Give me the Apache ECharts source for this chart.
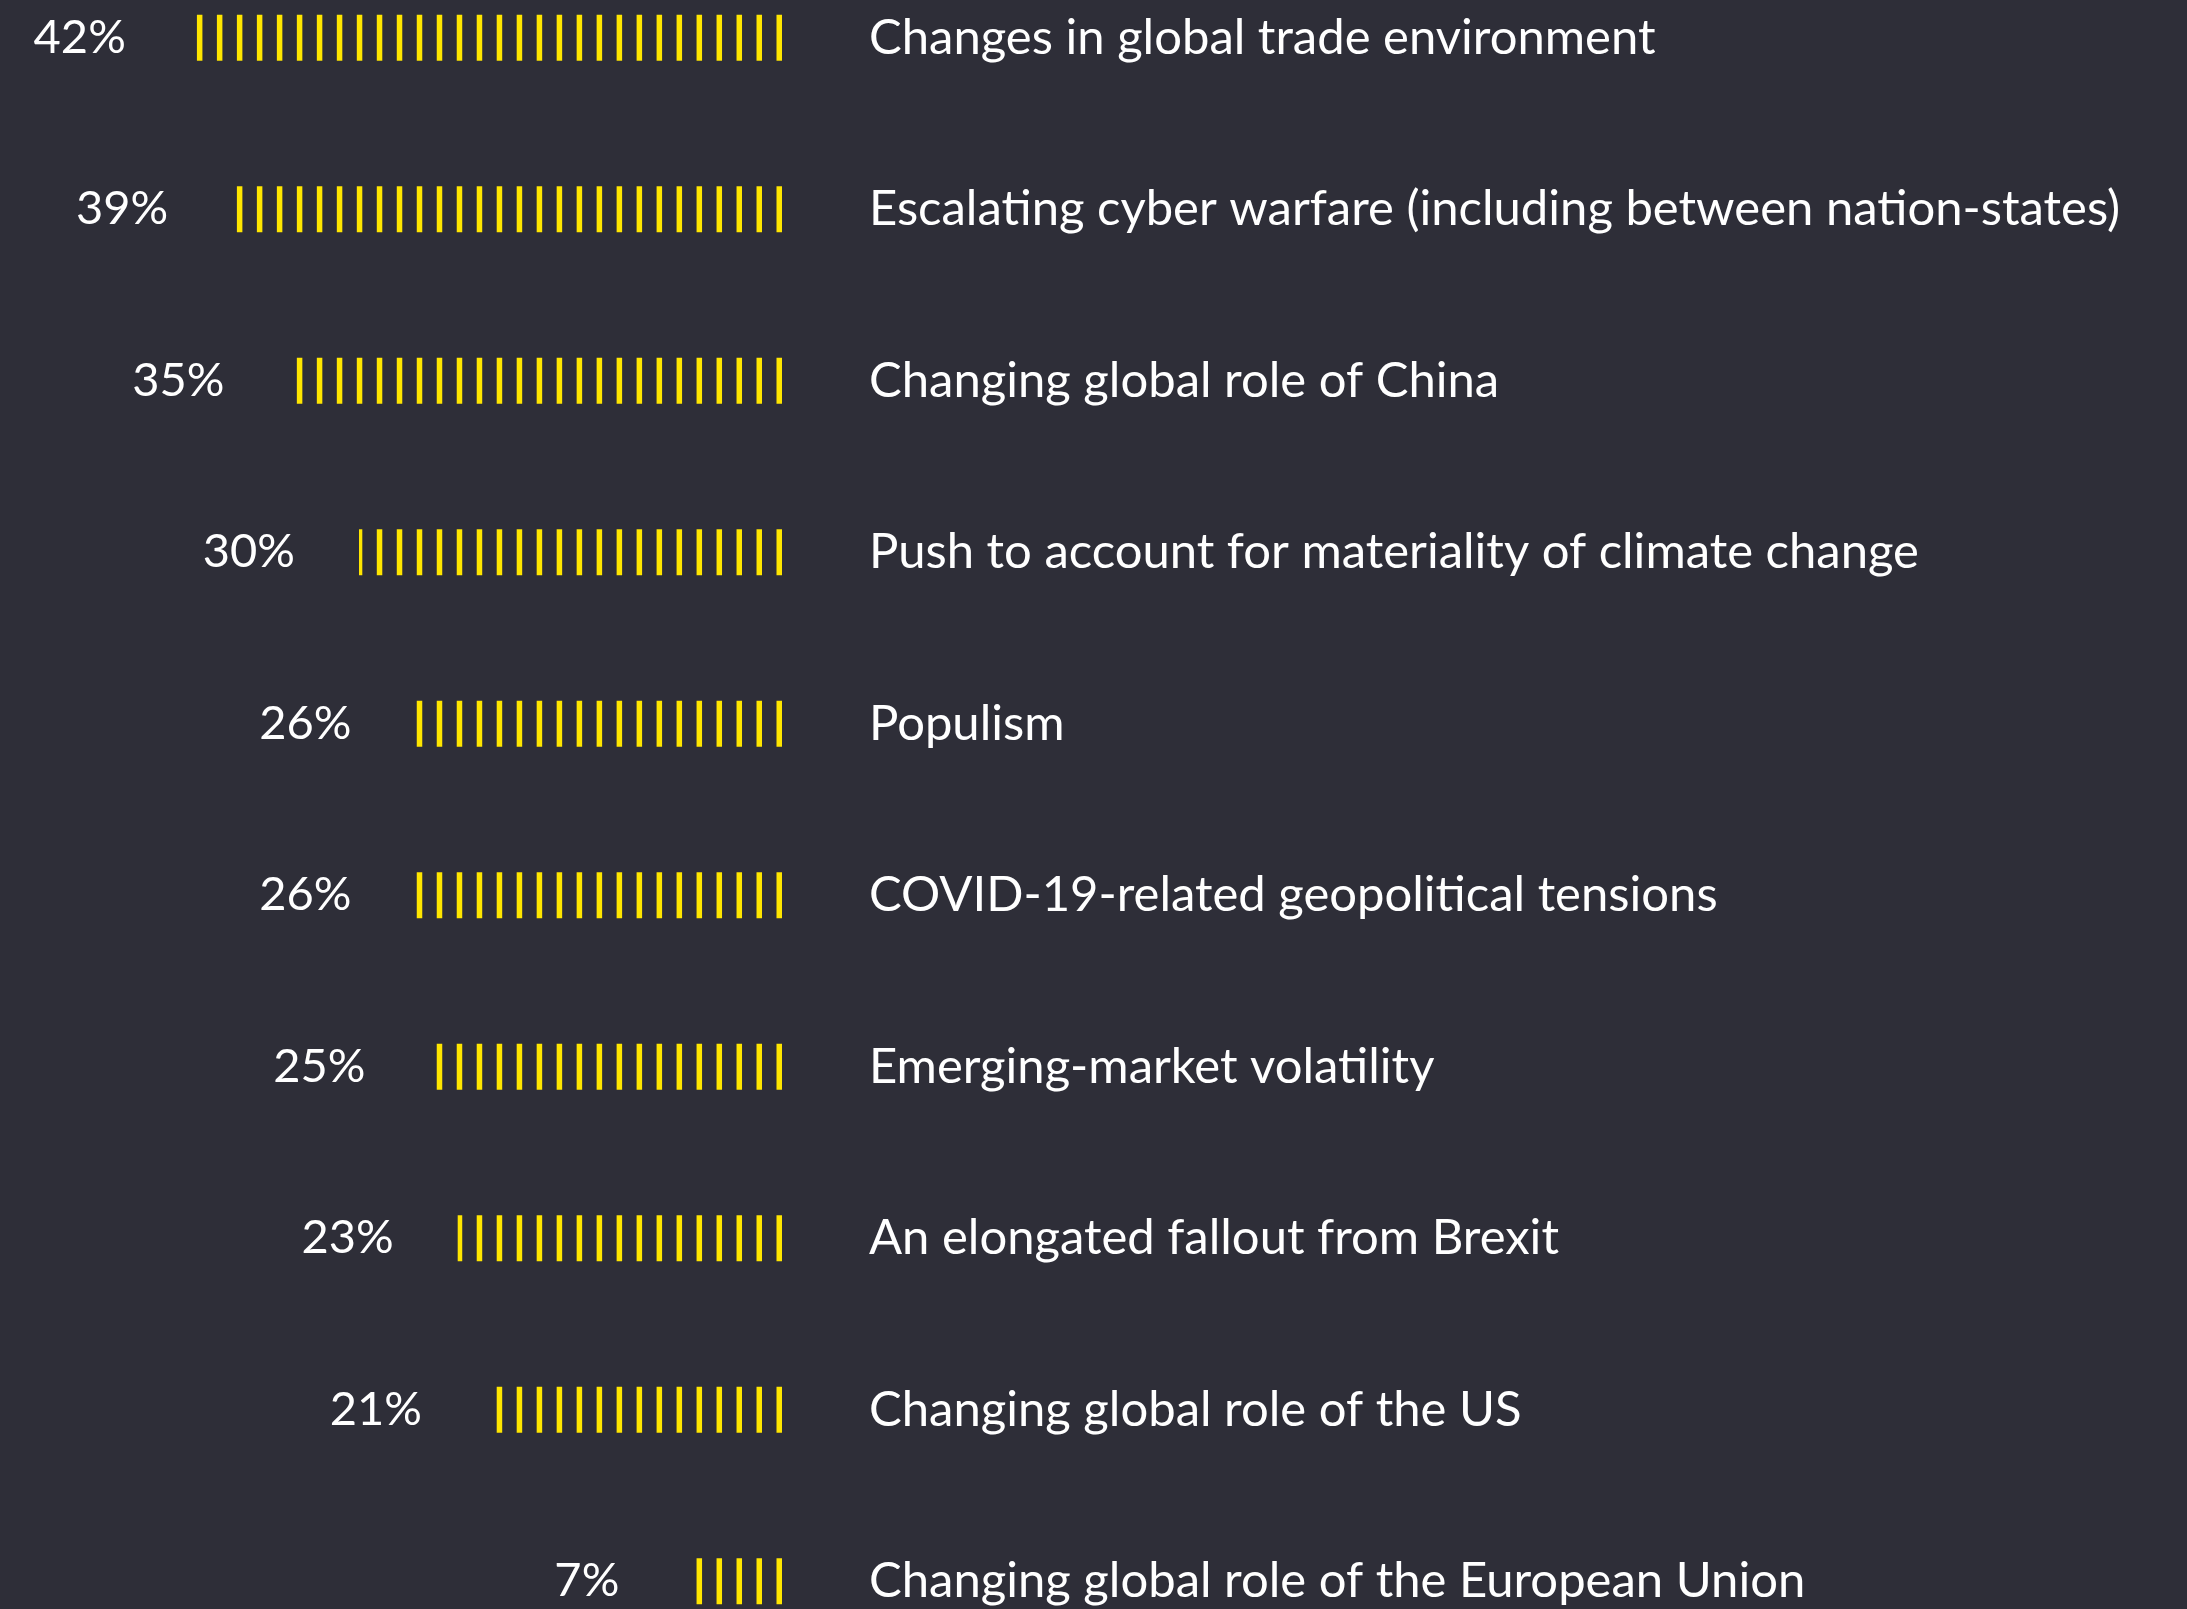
<!DOCTYPE html>
<html>
<head>
<meta charset="utf-8">
<title>Geopolitical drivers</title>
<script src="https://cdn.jsdelivr.net/npm/echarts@6/dist/echarts.min.js"></script>
<style>
  html, body {
    margin: 0;
    padding: 0;
    overflow: hidden;
    background: #2e2e38;
  }
  /* the last row runs past the bottom edge of the picture, so the chart is taller than the page */
  #chart {
    position: absolute;
    top: -48px;
    left: 0;
    width: 2187px;
    height: 1715px;
  }
</style>
</head>
<body>
<div id="chart"></div>
<script>
// share of respondents per issue, top to bottom
const categories = [
  'Changes in global trade environment',
  'Escalating cyber warfare (including between nation-states)',
  'Changing global role of China',
  'Push to account for materiality of climate change',
  'Populism',
  'COVID-19-related geopolitical tensions',
  'Emerging-market volatility',
  'An elongated fallout from Brexit',
  'Changing global role of the US',
  'Changing global role of the European Union'
]
const values = [42, 39, 35, 30, 26, 26, 25, 23, 21, 7]
const axisMax = 50

const chart = echarts.init(document.getElementById('chart'))

const option = {
  backgroundColor: '#2e2e38',
  animation: false,
  textStyle: {
    fontFamily: 'Lato'
  },
  grid: {
    left: 77,
    right: 1405,
    top: 0,
    bottom: 0
  },
  xAxis: {
    type: 'value',
    min: 0,
    max: axisMax,
    inverse: true,
    show: false
  },
  yAxis: {
    type: 'category',
    data: categories,
    inverse: true,
    position: 'right',
    axisLine: { show: false },
    axisTick: { show: false },
    splitLine: { show: false },
    axisLabel: {
      align: 'left',
      margin: 87,
      color: '#ffffff',
      fontSize: 49,
      fontFamily: 'Lato'
    }
  },
  series: [
    {
      // yellow tick marks on a fixed 20px rhythm, cut off at the value
      type: 'pictorialBar',
      data: values,
      symbol: 'rect',
      symbolSize: [5.5, 46],
      symbolRepeat: 'fixed',
      symbolMargin: 7.25,
      symbolClip: true,
      symbolBoundingData: axisMax,
      itemStyle: {
        color: '#ffe600'
      },
      z: 3
    },
    {
      // invisible bar only used to place the percentage at the end of each row
      type: 'bar',
      data: values,
      barWidth: 46,
      itemStyle: {
        color: 'rgba(0,0,0,0)'
      },
      label: {
        show: true,
        position: 'left',
        distance: 64,
        formatter: '{c}%',
        color: '#ffffff',
        fontSize: 47,
        fontFamily: 'Lato'
      },
      z: 2
    }
  ]
}

chart.setOption(option)
</script>
</body>
</html>
